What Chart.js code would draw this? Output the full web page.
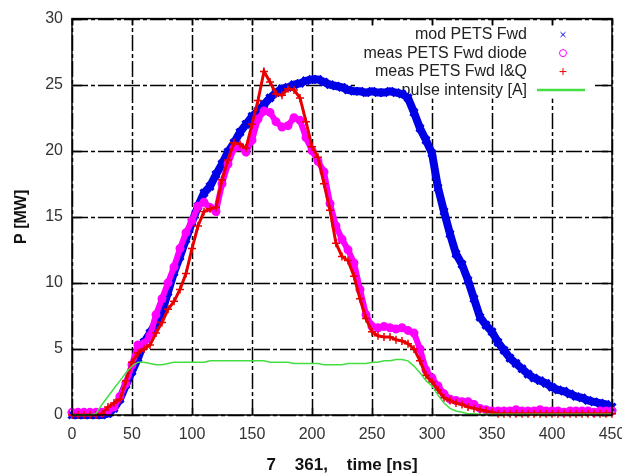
<!DOCTYPE html>
<html>
<head>
<meta charset="utf-8">
<script src="https://cdn.jsdelivr.net/npm/chart.js@4/dist/chart.umd.min.js"></script>
<style>
  html, body { margin: 0; padding: 0; background: #fff; }
  #wrap { width: 622px; height: 476px; position: relative; }
</style>
</head>
<body>
<div id="wrap"><canvas id="petsChart"></canvas></div>
<script>
// time axis in ns
const timeNs = [0, 5, 10, 15, 20, 25, 30, 35, 40, 45, 50, 55, 60, 65, 70, 75, 80, 85, 90, 95,
  100, 105, 110, 115, 120, 125, 130, 135, 140, 145, 150, 155, 160, 165, 170, 175, 180, 185, 190, 195,
  200, 205, 210, 215, 220, 225, 230, 235, 240, 245, 250, 255, 260, 265, 270, 275, 280, 285, 290, 295,
  300, 305, 310, 315, 320, 325, 330, 335, 340, 345, 350, 355, 360, 365, 370, 375, 380, 385, 390, 395,
  400, 405, 410, 415, 420, 425, 430, 435, 440, 445, 450];

const seriesLabels = ['mod PETS Fwd', 'meas PETS Fwd diode', 'meas PETS Fwd I&Q', 'pulse intensity [A]'];

const modPetsFwd = [0, 0, 0, 0, 0, 0,
  0.1, 0.5, 1.2, 2.3, 3.3, 4.3, 5.5, 6.2, 7.0, 7.8,
  9.3, 10.8, 12.0, 13.3, 14.6, 15.8, 16.8, 17.3, 18.2, 19.0,
  19.9, 20.6, 21.4, 22.0, 22.6, 23.0, 23.5, 24.0, 24.4, 24.7,
  24.8, 25.0, 25.1, 25.3, 25.4, 25.4, 25.2, 25.0, 24.9, 24.8,
  24.6, 24.5, 24.5, 24.4, 24.5, 24.4, 24.4, 24.5, 24.4, 24.3,
  24.0, 22.9, 21.7, 20.8, 19.8, 17.2, 15.4, 13.7, 12.2, 11.4,
  10.2, 8.8, 7.4, 6.8, 6.3, 5.5, 4.9, 4.3, 3.9, 3.5,
  3.1, 2.8, 2.6, 2.4, 2.1, 1.9, 1.8, 1.6, 1.4, 1.3,
  1.1, 1.0, 0.9, 0.8, 0.6];

const measDiode = [0.2, 0.2, 0.2, 0.2, 0.2, 0.2,
  0.3, 0.6, 1.4, 2.4, 3.8, 5.3, 5.4, 6.0, 7.6, 8.8,
  10.0, 11.2, 12.6, 13.8, 14.7, 15.8, 16.1, 15.7, 15.4, 17.5,
  19.0, 20.2, 20.3, 19.9, 20.8, 22.4, 23.0, 22.9, 22.2, 21.8,
  21.9, 22.5, 22.3, 21.0, 20.0, 19.2, 18.4, 16.0, 14.3, 13.3,
  12.5, 11.5, 9.5, 7.6, 6.7, 6.6, 6.7, 6.6, 6.5, 6.6,
  6.4, 6.2, 5.0, 3.4, 2.8, 2.2, 1.6, 1.2, 1.1, 1.0,
  1.0, 0.8, 0.5, 0.4, 0.3, 0.3, 0.3, 0.3, 0.4, 0.3,
  0.3, 0.3, 0.4, 0.3, 0.3, 0.3, 0.2, 0.3, 0.3, 0.3,
  0.3, 0.2, 0.3, 0.3, 0.3];

const measIQ = [0, 0, 0, 0, 0, 0.1,
  0.6, 0.9, 1.2, 2.6, 4.0, 4.7, 5.0, 5.3, 6.2, 7.0,
  8.0, 8.6, 9.5, 10.7, 12.6, 14.3, 15.4, 15.6, 15.7, 17.8,
  19.3, 20.6, 20.5, 20.2, 22.0, 23.8, 26.0, 25.2, 24.3, 24.2,
  24.7, 24.6, 24.0, 22.2, 20.3, 19.5, 17.5, 15.5, 13.0, 12.0,
  11.7, 10.5, 8.8, 7.3, 6.3, 6.0, 5.9, 5.9, 5.7, 5.6,
  5.4, 5.0, 4.1, 3.0, 2.5, 1.9, 1.3, 1.1, 0.9, 0.8,
  0.6, 0.5, 0.4, 0.3, 0.2, 0.1, 0.1, 0.1, 0.1, 0.1,
  0.1, 0.1, 0.1, 0.1, 0.1, 0.1, 0.1, 0.1, 0.1, 0.1,
  0.1, 0.1, 0.1, 0.1, 0.1];

const pulseIntensity = [0, 0, 0, 0, 0.1, 0.8,
  1.4, 2.0, 2.6, 3.2, 3.7, 4.0, 4.0, 3.9, 3.8, 3.8,
  3.9, 4.0, 4.0, 4.0, 4.0, 4.0, 4.0, 4.1, 4.1, 4.1,
  4.1, 4.1, 4.1, 4.1, 4.1, 4.1, 4.1, 4.0, 4.0, 4.0,
  4.0, 3.9, 3.9, 3.9, 3.9, 3.9, 3.8, 3.8, 3.8, 3.8,
  3.9, 3.9, 3.9, 3.9, 4.0, 4.0, 4.1, 4.1, 4.2, 4.2,
  4.1, 3.7, 3.2, 2.6, 2.2, 1.5, 0.9, 0.5, 0.3, 0.2,
  0.1, 0.1, 0.05, 0.05, 0.05, 0.05, 0.05, 0.05, 0.05, 0.05,
  0.05, 0.05, 0.05, 0.05, 0.05, 0.05, 0.05, 0.05, 0.05, 0.05,
  0.05, 0.05, 0.05, 0.05, 0.05];

const xTickStep = 50;
const yTickStep = 5;

function toPoints(values) {
    return timeNs.map((t, i) => ({ x: t, y: values[i] }));
}

// gnuplot-like dashed grid, an opaque key box, then inward tick marks
const gnuGrid = {
    id: 'gnuGrid',
    beforeDatasetsDraw(chart) {
        const ctx = chart.ctx;
        const a = chart.chartArea;
        const xs = chart.scales.x;
        const ys = chart.scales.y;
        ctx.save();
        ctx.strokeStyle = '#000';
        ctx.lineWidth = 1.5;
        ctx.setLineDash([16, 3, 4, 3]);
        xs.ticks.forEach(t => {
            let px = Math.round(xs.getPixelForValue(t.value)) + 0.5;
            ctx.beginPath();
            ctx.moveTo(px, a.bottom);
            ctx.lineTo(px, a.top);
            ctx.stroke();
        });
        ys.ticks.forEach(t => {
            let py = Math.round(ys.getPixelForValue(t.value)) + 0.5;
            ctx.beginPath();
            ctx.moveTo(a.left, py);
            ctx.lineTo(a.right, py);
            ctx.stroke();
        });

        // key box hides the grid behind the legend
        ctx.font = '16px "Liberation Sans", Arial, sans-serif';
        let maxW = 0;
        chart.data.datasets.forEach(ds => { maxW = Math.max(maxW, ctx.measureText(ds.label).width); });
        ctx.fillStyle = '#fff';
        ctx.fillRect(a.right - 85 - maxW - 6, a.top + 7, maxW + 6 + 68, 73);

        // inward ticks on all four borders
        ctx.setLineDash([]);
        ctx.lineWidth = 1.5;
        xs.ticks.forEach(t => {
            let px = Math.round(xs.getPixelForValue(t.value)) + 0.5;
            ctx.beginPath();
            ctx.moveTo(px, a.top); ctx.lineTo(px, a.top + 7);
            ctx.moveTo(px, a.bottom); ctx.lineTo(px, a.bottom - 7);
            ctx.stroke();
        });
        ys.ticks.forEach(t => {
            let py = Math.round(ys.getPixelForValue(t.value)) + 0.5;
            ctx.beginPath();
            ctx.moveTo(a.left, py); ctx.lineTo(a.left + 10, py);
            ctx.moveTo(a.right, py); ctx.lineTo(a.right - 10, py);
            ctx.stroke();
        });
        ctx.restore();
    }
};

// legend drawn gnuplot style: text right aligned, symbol to the right
const gnuLegend = {
    id: 'gnuLegend',
    beforeDatasetsDraw(chart) {
        const ctx = chart.ctx;
        const area = chart.chartArea;
        ctx.save();
        ctx.font = '16px "Liberation Sans", Arial, sans-serif';
        ctx.textAlign = 'right';
        ctx.textBaseline = 'middle';
        chart.data.datasets.forEach((ds, i) => {
            let y = area.top + 16 + i * 18.5;
            ctx.fillStyle = '#222';
            ctx.fillText(ds.label, area.right - 85, y);
            ctx.strokeStyle = ds.borderColor;
            if (ds.pointRadius > 0) {
                ctx.fillStyle = 'rgba(0,0,0,0)';
                Chart.helpers.drawPoint(ctx, {
                    pointStyle: ds.pointStyle,
                    radius: 3.5,
                    borderWidth: 2
                }, area.right - 49, y);
            } else {
                ctx.lineWidth = 2.5;
                ctx.beginPath();
                ctx.moveTo(area.right - 75, y);
                ctx.lineTo(area.right - 27, y);
                ctx.stroke();
            }
        });
        ctx.restore();
    }
};

const frameBox = {
    id: 'frameBox',
    afterDatasetsDraw(chart) {
        const ctx = chart.ctx;
        const a = chart.chartArea;
        ctx.save();
        ctx.strokeStyle = '#000';
        ctx.lineWidth = 1.5;
        ctx.strokeRect(a.left, a.top, a.right - a.left, a.bottom - a.top);
        ctx.restore();
    }
};

const ctx = document.getElementById('petsChart').getContext('2d');
const petsChart = new Chart(ctx, {
    type: 'scatter',
    data: {
        datasets: [{
            label: seriesLabels[0],
            data: toPoints(modPetsFwd),
            borderColor: '#0000e6',
            backgroundColor: '#0000e6',
            pointStyle: 'crossRot',
            pointRadius: 5,
            pointBorderWidth: 3,
            showLine: true,
            borderWidth: 8,
            clip: 8,
            order: 4
        }, {
            label: seriesLabels[1],
            data: toPoints(measDiode),
            borderColor: '#ff00ff',
            backgroundColor: 'rgba(0,0,0,0)',
            pointStyle: 'circle',
            pointRadius: 3.5,
            pointBorderWidth: 2,
            showLine: true,
            borderWidth: 6,
            clip: 8,
            order: 3
        }, {
            label: seriesLabels[2],
            data: toPoints(measIQ),
            borderColor: '#e80000',
            backgroundColor: '#e80000',
            pointStyle: 'cross',
            pointRadius: 4,
            pointBorderWidth: 1.5,
            showLine: true,
            borderWidth: 3,
            clip: 8,
            order: 2
        }, {
            label: seriesLabels[3],
            data: toPoints(pulseIntensity),
            borderColor: '#44dd44',
            backgroundColor: '#44dd44',
            pointRadius: 0,
            showLine: true,
            borderWidth: 1.5,
            clip: 8,
            order: 1
        }]
    },
    options: {
        responsive: true,
        maintainAspectRatio: false,
        animation: false,
        layout: { padding: { top: 17, right: 10, left: 0, bottom: 0 } },
        plugins: {
            legend: { display: false },
            tooltip: { enabled: false }
        },
        scales: {
            x: {
                type: 'linear',
                min: 0,
                max: 450,
                afterFit: (scale) => {
                    scale.height = 61;
                    scale.paddingRight = 0;
                    scale.paddingLeft = 0;
                },
                ticks: {
                    stepSize: xTickStep,
                    padding: 10,
                    color: '#333',
                    font: { family: '"Liberation Sans", Arial, sans-serif', size: 16 },
                    maxRotation: 0
                },
                grid: { display: false, drawTicks: false },
                border: { display: false },
                title: {
                    display: true,
                    text: '7    361,    time [ns]',
                    color: '#111',
                    font: { family: '"Liberation Sans Narrow", "Liberation Sans", Arial, sans-serif', size: 17, weight: 'bold' },
                    padding: { top: 0, bottom: 0 }
                }
            },
            y: {
                min: 0,
                max: 30,
                afterFit: (scale) => { scale.width = 72; },
                ticks: {
                    stepSize: yTickStep,
                    padding: 9,
                    color: '#333',
                    font: { family: '"Liberation Sans", Arial, sans-serif', size: 16 }
                },
                grid: { display: false, drawTicks: false },
                border: { display: false },
                title: {
                    display: true,
                    text: 'P [MW]',
                    color: '#111',
                    font: { family: '"Liberation Sans", Arial, sans-serif', size: 16, weight: 'bold' },
                    padding: { top: 12, bottom: 0 }
                }
            }
        }
    },
    plugins: [gnuGrid, gnuLegend, frameBox]
});
</script>
</body>
</html>
